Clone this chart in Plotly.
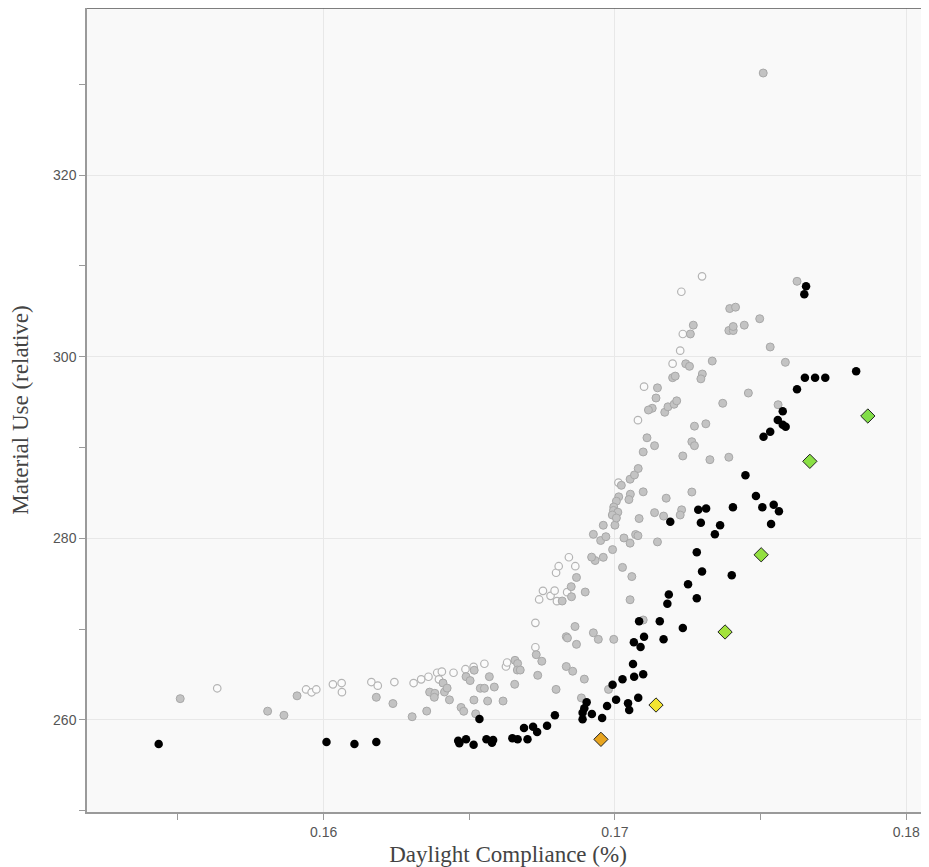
import plotly.graph_objects as go

# ---- data ----
black_x = [0.15434, 0.16010, 0.16106, 0.16181, 0.16462, 0.16466, 0.16489, 0.16515, 0.16535, 0.16559,
           0.16582, 0.16578, 0.16648, 0.16666, 0.16700, 0.16688, 0.16719, 0.16733, 0.16767, 0.16794,
           0.16889, 0.16889, 0.16895, 0.16903, 0.16921, 0.16956, 0.16973, 0.16992, 0.17004, 0.17026,
           0.17045, 0.17049, 0.17062, 0.17066, 0.17080, 0.17097, 0.17088, 0.17065, 0.17100, 0.17083,
           0.17154, 0.17167, 0.17233, 0.17180, 0.17185, 0.17251, 0.17281, 0.17299, 0.17401, 0.17281,
           0.17190, 0.17295, 0.17343, 0.17361, 0.17286, 0.17313, 0.17405, 0.17506, 0.17545, 0.17563,
           0.17536, 0.17448, 0.17484, 0.17510, 0.17533, 0.17576, 0.17559, 0.17576, 0.17586, 0.17625,
           0.17652, 0.17687, 0.17722, 0.17828, 0.17650, 0.17656]
black_y = [257.36, 257.58, 257.36, 257.58, 257.72, 257.43, 257.88, 257.28, 260.11, 257.88,
           257.80, 257.50, 257.99, 257.88, 257.88, 259.12, 259.26, 258.68, 259.37, 260.52,
           260.08, 260.80, 261.29, 261.95, 260.66, 260.22, 261.54, 263.89, 262.23, 264.48,
           261.84, 261.10, 266.17, 264.77, 262.46, 265.03, 268.04, 268.55, 269.17, 270.87,
           270.87, 268.88, 270.13, 272.80, 273.82, 274.94, 273.41, 276.35, 275.94, 278.47,
           281.83, 281.72, 280.44, 281.44, 283.15, 283.29, 283.42, 283.42, 283.70, 282.98,
           281.58, 286.94, 284.66, 291.19, 291.74, 293.99, 293.03, 292.51, 292.29, 296.41,
           297.69, 297.69, 297.69, 298.39, 306.87, 307.75]

grey_x = [0.15508, 0.15808, 0.15864, 0.15909, 0.16181, 0.16238, 0.16304, 0.16354, 0.16364, 0.16382,
          0.16380, 0.16410, 0.16415, 0.16424, 0.16432, 0.16472, 0.16481, 0.16489, 0.16503, 0.16516,
          0.16517, 0.16522, 0.16538, 0.16552, 0.16569, 0.16586, 0.16563, 0.16616, 0.16656, 0.16657,
          0.16666, 0.16665, 0.16675, 0.16730, 0.16735, 0.16749, 0.16798, 0.16833, 0.16855, 0.16895,
          0.16885, 0.16978, 0.16868, 0.16833, 0.16837, 0.16863, 0.16926, 0.16943, 0.16996, 0.16819,
          0.16851, 0.16850, 0.16868, 0.16898, 0.16932, 0.16920, 0.16960, 0.17026, 0.17058, 0.17052,
          0.16992, 0.16926, 0.16951, 0.16969, 0.16960, 0.17000, 0.17031, 0.17052, 0.17071, 0.17079,
          0.17146, 0.17083, 0.17136, 0.17167, 0.17229, 0.17224, 0.17176, 0.17264, 0.17097, 0.17053,
          0.17048, 0.17013, 0.17005, 0.16996, 0.16995, 0.17010, 0.16991, 0.17005, 0.17022, 0.17052,
          0.17067, 0.17080, 0.17097, 0.17110, 0.17136, 0.17233, 0.17264, 0.17273, 0.17326, 0.17391,
          0.17273, 0.17312, 0.17370, 0.17458, 0.17560, 0.17128, 0.17115, 0.17171, 0.17182, 0.17203,
          0.17212, 0.17141, 0.17146, 0.17198, 0.17207, 0.17243, 0.17256, 0.17300, 0.17295, 0.17334,
          0.17585, 0.17533, 0.17259, 0.17269, 0.17391, 0.17406, 0.17406, 0.17444, 0.17497, 0.17394,
          0.17414, 0.17625, 0.17509, 0.17097]
grey_y = [262.35, 260.97, 260.52, 262.66, 262.50, 261.81, 260.36, 260.98, 263.07, 262.94,
          262.50, 264.07, 263.08, 263.51, 262.22, 261.38, 260.96, 264.77, 264.34, 262.20,
          265.48, 260.68, 263.49, 263.49, 264.77, 263.63, 262.09, 262.09, 263.93, 266.57,
          266.22, 265.50, 265.50, 267.19, 264.92, 266.47, 263.37, 265.89, 265.37, 264.50,
          262.43, 263.37, 268.33, 269.17, 269.03, 270.29, 269.60, 268.88, 268.88, 273.10,
          273.57, 274.68, 275.69, 274.09, 277.56, 277.93, 277.91, 276.80, 275.79, 273.24,
          278.76, 280.44, 279.76, 280.18, 281.44, 281.45, 280.04, 279.47, 280.42, 280.29,
          279.61, 282.18, 282.83, 282.45, 283.14, 282.57, 284.42, 285.10, 285.12, 284.86,
          284.27, 284.57, 284.09, 283.45, 283.07, 282.88, 282.57, 282.24, 285.84, 286.51,
          286.98, 287.69, 289.51, 291.07, 290.20, 289.07, 290.64, 290.20, 288.66, 288.93,
          292.35, 292.61, 294.87, 296.00, 294.71, 294.32, 294.13, 293.88, 294.48, 294.76,
          295.14, 295.45, 296.57, 297.69, 297.86, 299.22, 298.94, 298.09, 297.56, 299.52,
          299.38, 301.07, 302.50, 303.47, 302.88, 302.88, 303.32, 303.47, 304.18, 305.30,
          305.45, 308.30, 331.23, 271.01]

open_x = [0.15635, 0.15940, 0.15959, 0.15975, 0.16032, 0.16062, 0.16063, 0.16164, 0.16186, 0.16243,
          0.16309, 0.16335, 0.16360, 0.16390, 0.16396, 0.16406, 0.16446, 0.16487, 0.16515, 0.16552,
          0.16626, 0.16630, 0.16727, 0.16727, 0.16740, 0.16753, 0.16779, 0.16793, 0.16801, 0.16836,
          0.16798, 0.16807, 0.16864, 0.16842, 0.17012, 0.17079, 0.17100, 0.17198, 0.17224, 0.17233,
          0.17228, 0.17299]
open_y = [263.49, 263.36, 263.05, 263.36, 263.93, 264.07, 263.06, 264.18, 263.78, 264.18,
          264.07, 264.48, 264.76, 265.20, 264.48, 265.32, 265.20, 265.59, 265.84, 266.19,
          265.89, 266.33, 270.70, 268.01, 273.27, 274.22, 273.67, 274.24, 273.08, 274.07,
          276.21, 276.93, 276.93, 277.92, 286.14, 293.01, 296.70, 299.23, 300.66, 302.50,
          307.15, 308.85]

diamond_x = [0.16952, 0.17141, 0.17378, 0.17502, 0.17669, 0.17868]
diamond_y = [257.87, 261.65, 269.69, 278.19, 288.48, 293.47]
diamond_colors = ["#E8A520", "#F2E430", "#A3E23C", "#93E041", "#8AE044", "#82DE48"]

x_ticks = [0.16, 0.17, 0.18]
x_tick_labels = ["0.16", "0.17", "0.18"]
y_ticks = [260, 280, 300, 320]
y_tick_labels = ["260", "280", "300", "320"]

fig = go.Figure()

fig.add_trace(go.Scatter(
    x=open_x, y=open_y, mode="markers",
    marker=dict(size=7.5, color="#fbfbfb", line=dict(color="#b4b4b4", width=1.2)),
    showlegend=False, hoverinfo="skip"))
fig.add_trace(go.Scatter(
    x=grey_x, y=grey_y, mode="markers",
    marker=dict(size=8, color="#c3c3c3", line=dict(color="#a8a8a8", width=1)),
    showlegend=False, hoverinfo="skip"))
fig.add_trace(go.Scatter(
    x=black_x, y=black_y, mode="markers",
    marker=dict(size=8.5, color="#000000", line=dict(width=0)),
    showlegend=False, hoverinfo="skip"))
fig.add_trace(go.Scatter(
    x=diamond_x, y=diamond_y, mode="markers",
    marker=dict(size=11, symbol="diamond", color=diamond_colors,
                line=dict(color="#222222", width=1)),
    showlegend=False, hoverinfo="skip"))

axis_common = dict(
    automargin=False,
    showline=True, linecolor="#9a9a9a", linewidth=1.5,
    ticks="outside", ticklen=6, tickcolor="#9a9a9a", tickwidth=1.2,
    showgrid=True, gridcolor="#e8e8e8", gridwidth=1,
    zeroline=False,
    tickfont=dict(family="Liberation Sans, Arial, sans-serif", size=14, color="#555555"),
)

# the page body adds an 8px offset, so the figure is sized to fill the window from there
fig.update_layout(
    width=921, height=859,
    margin=dict(l=79, r=0, t=0, b=55),
    paper_bgcolor="#ffffff",
    plot_bgcolor="#f9f9f9",
    xaxis=dict(
        range=[0.15188, 0.18078],
        tickvals=x_ticks, ticktext=x_tick_labels,
        minor=dict(dtick=0.005, tick0=0.15, ticks="outside", ticklen=6,
                   tickcolor="#9a9a9a", tickwidth=1.2, showgrid=False),
        title=dict(text="Daylight Compliance (%)", standoff=9,
                   font=dict(family="Liberation Serif, Times New Roman, serif", size=23, color="#444444")),
        **axis_common),
    yaxis=dict(
        range=[249.87, 338.39],
        tickvals=y_ticks, ticktext=y_tick_labels,
        minor=dict(dtick=10, tick0=250, ticks="outside", ticklen=6,
                   tickcolor="#9a9a9a", tickwidth=1.2, showgrid=False),
        title=dict(text="Material Use (relative)", standoff=20,
                   font=dict(family="Liberation Serif, Times New Roman, serif", size=23, color="#444444")),
        **axis_common),
    shapes=[dict(type="line", xref="paper", yref="paper", x0=0, x1=1, y0=1, y1=1,
                 line=dict(color="#555555", width=1.5))],
)

fig.write_html("out.html")
